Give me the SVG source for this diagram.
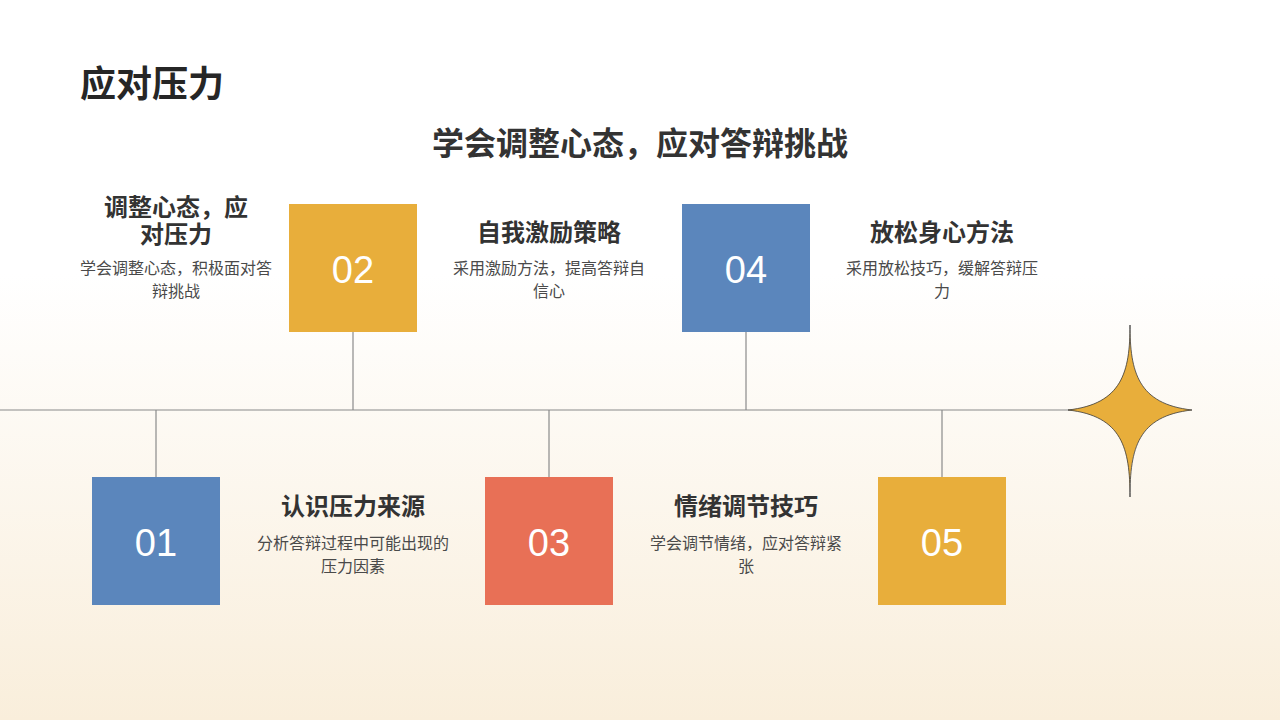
<svg xmlns="http://www.w3.org/2000/svg" width="1280" height="720" viewBox="0 0 1280 720">
<defs>
<linearGradient id="bg" x1="0" y1="0" x2="0" y2="1">
<stop offset="0" stop-color="#ffffff"/>
<stop offset="0.38" stop-color="#ffffff"/>
<stop offset="1" stop-color="#f9eedb"/>
</linearGradient>
<style>
.cjk{font-family:"Noto Sans CJK SC","Liberation Sans",sans-serif;}
.h1{font-size:36px;font-weight:bold;fill:#262626;}
.h2{font-size:32px;font-weight:bold;fill:#333333;}
.t{font-size:24px;font-weight:bold;fill:#333333;text-anchor:middle;}
.d{font-size:16px;fill:#4a4a4a;text-anchor:middle;}
.num{font-family:"Liberation Sans",Arial,sans-serif;font-size:38px;fill:#ffffff;text-anchor:middle;}
.ln{stroke:#8a8a8a;stroke-width:1.2;fill:none;}
.blue{fill:#5b86bc;}
.yellow{fill:#e8ae3b;}
.red{fill:#e87056;}
</style>
</defs>
<rect x="0" y="0" width="1280" height="720" fill="url(#bg)"/>
<text class="cjk h1" x="80" y="97">应对压力</text>
<text class="cjk h2" x="640" y="155" text-anchor="middle">学会调整心态，应对答辩挑战</text>
<g id="connectors">
<line class="ln" x1="0" y1="410" x2="1110" y2="410"/>
<line class="ln" x1="353" y1="332" x2="353" y2="410"/>
<line class="ln" x1="746" y1="332" x2="746" y2="410"/>
<line class="ln" x1="156" y1="410" x2="156" y2="477"/>
<line class="ln" x1="549" y1="410" x2="549" y2="477"/>
<line class="ln" x1="942" y1="410" x2="942" y2="477"/>
</g>
<g id="star">
<path d="M1130,325 C1130,372 1138,404 1192,410 C1138,416 1130,448 1130,497 C1130,448 1122,416 1068,410 C1122,404 1130,372 1130,325 Z" fill="#e8ae3b" stroke="#3a3a3a" stroke-width="0.8"/>
</g>
<g id="node01">
<rect class="blue" x="92" y="477" width="128" height="128"/>
<text class="num" x="156" y="556">01</text>
<text class="cjk t" x="353" y="515">认识压力来源</text>
<text class="cjk d" x="353" y="549">分析答辩过程中可能出现的</text>
<text class="cjk d" x="353" y="572">压力因素</text>
</g>
<g id="node02">
<rect class="yellow" x="289" y="204" width="128" height="128"/>
<text class="num" x="353" y="283">02</text>
<text class="cjk t" x="176" y="216">调整心态，应<tspan x="176" y="243">对压力</tspan></text>
<text class="cjk d" x="176" y="274">学会调整心态，积极面对答</text>
<text class="cjk d" x="176" y="297">辩挑战</text>
</g>
<g id="node03">
<rect class="red" x="485" y="477" width="128" height="128"/>
<text class="num" x="549" y="556">03</text>
<text class="cjk t" x="746" y="515">情绪调节技巧</text>
<text class="cjk d" x="746" y="549">学会调节情绪，应对答辩紧</text>
<text class="cjk d" x="746" y="572">张</text>
</g>
<g id="node04">
<rect class="blue" x="682" y="204" width="128" height="128"/>
<text class="num" x="746" y="283">04</text>
<text class="cjk t" x="549" y="241">自我激励策略</text>
<text class="cjk d" x="549" y="274">采用激励方法，提高答辩自</text>
<text class="cjk d" x="549" y="297">信心</text>
</g>
<g id="node05">
<rect class="yellow" x="878" y="477" width="128" height="128"/>
<text class="num" x="942" y="556">05</text>
<text class="cjk t" x="942" y="241">放松身心方法</text>
<text class="cjk d" x="942" y="274">采用放松技巧，缓解答辩压</text>
<text class="cjk d" x="942" y="297">力</text>
</g>
</svg>
